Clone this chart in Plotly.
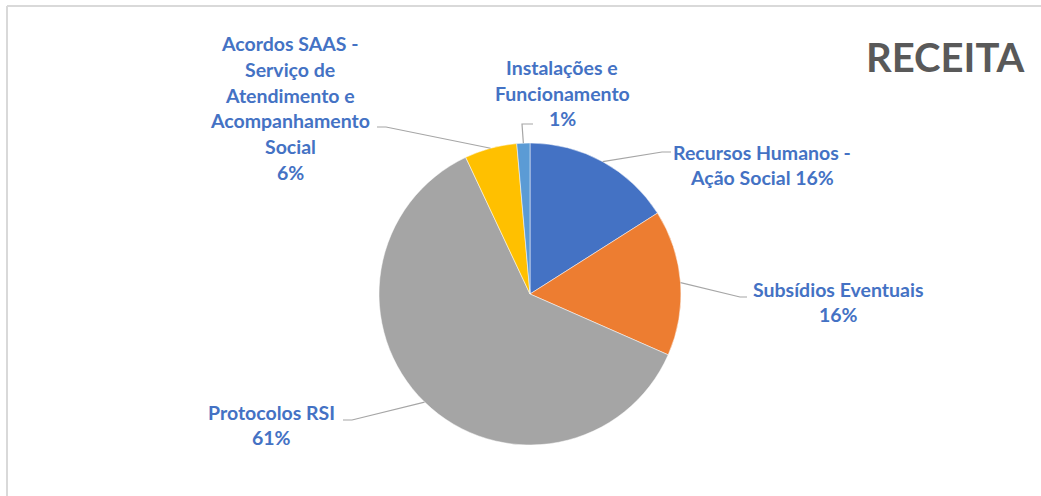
import math
import plotly.graph_objects as go

# ---- data ----
categories = [
    "Recursos Humanos -<br>Ação Social",
    "Subsídios Eventuais",
    "Protocolos RSI",
    "Acordos SAAS -<br>Serviço de<br>Atendimento e<br>Acompanhamento<br>Social",
    "Instalações e<br>Funcionamento",
]
values = [16.0, 15.6, 61.4, 5.6, 1.4]
colors = ["#4472C4", "#ED7D31", "#A5A5A5", "#FFC000", "#5B9BD5"]
title_text = "RECEITA"

# ---- layout constants (pixels) ----
W, H = 1041, 496
CX, CY, R = 530, 294, 151
TEXT_COLOR = "#4472C4"
FONT = "Lato"
FS = 19.5
LINE_H = 25.7

# label placement per slice: text block center, and leader polyline (elbow, end) in px
label_layout = [
    dict(tx=762, ty=165, elbow=(662, 152), end=(671, 152), pct="inline"),
    dict(tx=838, ty=302, elbow=(740, 297), end=(747, 297), pct="newline"),
    dict(tx=271, ty=425, elbow=(352, 420), end=(343, 420), pct="newline"),
    dict(tx=290, ty=108, elbow=(386, 127), end=(377, 127), pct="newline"),
    dict(tx=562, ty=93, elbow=(522, 124), end=(533, 124), pct="newline"),
]

def px(x):
    return x / W

def py(y):
    return 1 - y / H

fig = go.Figure()
fig.add_trace(go.Pie(
    labels=[c.replace("<br>", " ") for c in categories],
    values=values,
    sort=False,
    direction="clockwise",
    rotation=0,
    marker=dict(colors=colors, line=dict(color="white", width=0.5)),
    textinfo="none",
    hoverinfo="label+percent",
    showlegend=False,
    domain=dict(x=[px(CX - R), px(CX + R)], y=[py(CY + R), py(CY - R)]),
))

total = sum(values)
cum = 0.0
annotations = []
shapes = []
for cat, v, lay in zip(categories, values, label_layout):
    frac = v / total
    mid = (cum + frac / 2) * 2 * math.pi
    cum += frac
    ex = CX + R * math.sin(mid)
    ey = CY - R * math.cos(mid)
    (bx, by), (qx, qy) = lay["elbow"], lay["end"]
    shapes.append(dict(
        type="path", xref="paper", yref="paper",
        path=f"M {px(ex)} {py(ey)} L {px(bx)} {py(by)} L {px(qx)} {py(qy)}",
        line=dict(color="#A6A6A6", width=1.2),
    ))
    pct = f"{round(frac * 100)}%"
    lines = cat.split("<br>")
    if lay["pct"] == "inline":
        lines[-1] = lines[-1] + " " + pct
    else:
        lines.append(pct)
    n = len(lines)
    for i, ln in enumerate(lines):
        yy = lay["ty"] + (i - (n - 1) / 2) * LINE_H
        annotations.append(dict(
            x=px(lay["tx"]), y=py(yy), xref="paper", yref="paper",
            text=f"<b>{ln}</b>", showarrow=False,
            xanchor="center", yanchor="middle",
            font=dict(family=FONT, size=FS, color=TEXT_COLOR),
        ))

annotations.append(dict(
    x=px(945), y=py(57), xref="paper", yref="paper",
    text=f"<b>{title_text}</b>", showarrow=False,
    xanchor="center", yanchor="middle",
    font=dict(family=FONT, size=40, color="#595959"),
))

# chart frame (top and left edges visible)
shapes.append(dict(type="line", xref="paper", yref="paper",
                   x0=px(7), y0=py(6), x1=1, y1=py(6),
                   line=dict(color="#D9D9D9", width=2)))
shapes.append(dict(type="line", xref="paper", yref="paper",
                   x0=px(7), y0=py(6), x1=px(7), y1=0,
                   line=dict(color="#D9D9D9", width=2)))

fig.update_layout(
    width=W, height=H,
    margin=dict(l=0, r=0, t=0, b=0),
    paper_bgcolor="white",
    plot_bgcolor="white",
    annotations=annotations,
    shapes=shapes,
)

fig.write_html(
    "out.html",
    config={"displayModeBar": False},
    post_script="document.body.style.margin='0';document.body.style.overflow='hidden';",
)
